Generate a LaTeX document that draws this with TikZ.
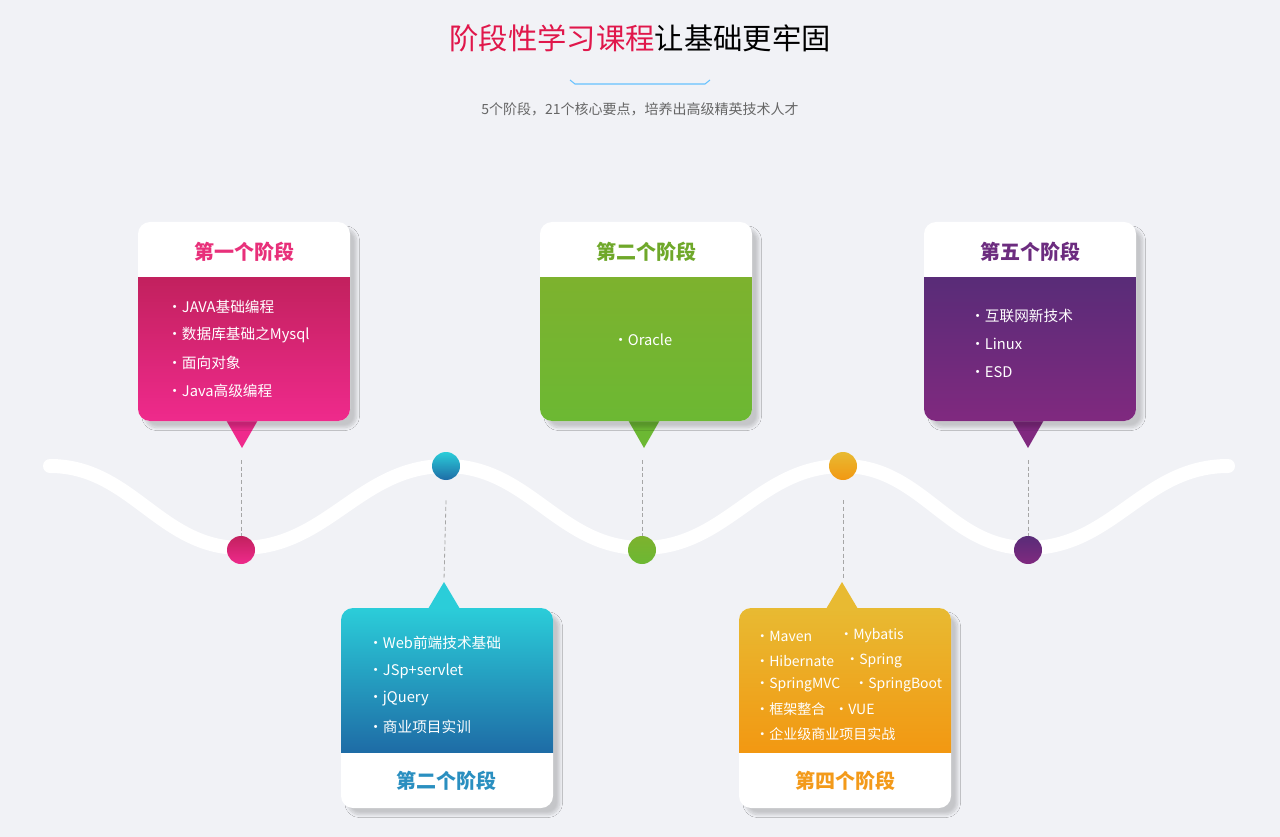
\documentclass[tikz,border=0pt]{standalone}
\usepackage{fontspec}
\setmainfont{Noto Sans CJK SC}
\usetikzlibrary{shadows.blur}
\definecolor{bgc}{HTML}{F1F2F6}
\definecolor{titred}{HTML}{E0174B}
\definecolor{pinkA}{HTML}{C2215E}\definecolor{pinkB}{HTML}{EF2A8C}\definecolor{pinkT}{HTML}{E8307A}
\definecolor{blueA}{HTML}{2BCDD9}\definecolor{blueB}{HTML}{1E6CA6}\definecolor{blueT}{HTML}{2A8FC0}
\definecolor{greenA}{HTML}{7DB22E}\definecolor{greenB}{HTML}{6CB833}\definecolor{greenT}{HTML}{6FA82A}
\definecolor{orangeA}{HTML}{E8BA32}\definecolor{orangeB}{HTML}{F29812}\definecolor{orangeT}{HTML}{F39A1A}
\definecolor{purpleA}{HTML}{592C78}\definecolor{purpleB}{HTML}{80297F}\definecolor{purpleT}{HTML}{6C2C7F}
\tikzset{
  card/.style={fill=white,rounded corners=9pt,blur shadow={shadow xshift=5pt,shadow yshift=-5pt,shadow opacity=18,shadow blur steps=8}},
  head/.style={font=\fontsize{15}{18}\selectfont\bfseries},
  item/.style={anchor=west,text=white,font=\fontsize{11}{13}\selectfont,inner sep=0pt},
  small/.style={item,font=\fontsize{10.5}{12}\selectfont},
  guide/.style={densely dashed,gray!70,line width=0.6pt},
  dot/.style={circle,minimum size=21pt,inner sep=0pt}
}
\begin{document}
\begin{tikzpicture}[x=0.75pt,y=-0.75pt]
  \fill[bgc] (0,0) rectangle (1280,837);
  \useasboundingbox (0,0) rectangle (1280,837);
  % title
  \node (title) at (640,38) {\fontsize{22}{26}\selectfont\textcolor{titred}{阶段性学习课程}让基础更牢固};
  \draw[blue!40!cyan!60,line width=0.8pt] (570,80) -- (575,84) -- (705,84) -- (710,80);
  \node[text=black!60,font=\fontsize{10.5}{12}\selectfont] (sub) at (640,109) {5个阶段，21个核心要点，培养出高级精英技术人才};
  % wave
  \draw[white,line width=10.5pt,line cap=round] (50,466) to[out=0,in=180] (241,548)
    to[out=0,in=180] (446,466) to[out=0,in=180] (642,548) to[out=0,in=180] (843,466)
    to[out=0,in=180] (1028,548) to[out=0,in=180] (1228,466);
  % top cards
  \foreach \x/\ca/\cb in {138/pinkA/pinkB, 540/greenA/greenB, 924/purpleA/purpleB}{
    \fill[\cb] (\x+88,420) -- (\x+120,420) -- (\x+104,448) -- cycle;
    \path[card] (\x,222) rectangle (\x+212,421);
    \begin{scope}
      \clip[rounded corners=9pt] (\x,222) rectangle (\x+212,421);
      \shade[top color=\ca,bottom color=\cb] (\x,278) rectangle (\x+212,421);
    \end{scope}
  }
  % bottom cards
  \foreach \x/\ca/\cb in {341/blueA/blueB, 739/orangeA/orangeB}{
    \fill[\ca] (\x+87,609) -- (\x+119,609) -- (\x+103,582) -- cycle;
    \path[card] (\x,608) rectangle (\x+212,808);
    \begin{scope}
      \clip[rounded corners=9pt] (\x,608) rectangle (\x+212,808);
      \shade[top color=\ca,bottom color=\cb] (\x,608) rectangle (\x+212,752);
    \end{scope}
  }
  % dots and guides
  \node[dot,top color=pinkA,bottom color=pinkB] (d1) at (241,550) {};
  \node[dot,top color=blueA,bottom color=blueB] (d2) at (446,466) {};
  \node[dot,top color=greenA,bottom color=greenB] (d3) at (642,550) {};
  \node[dot,top color=orangeA,bottom color=orangeB] (d4) at (843,466) {};
  \node[dot,top color=purpleA,bottom color=purpleB] (d5) at (1028,550) {};
  \coordinate (g1) at (241,460); \coordinate (g2) at (444,580);
  \coordinate (g3) at (642,460); \coordinate (g4) at (843,580);
  \coordinate (g5) at (1028,460);
  \draw[guide] (g1) -- (d1.north);
  \draw[guide] (d2.south) ++(0,20) coordinate (g2s) (g2s) -- (g2);
  \draw[guide] (g3) -- (d3.north);
  \draw[guide] (d4.south) ++(0,20) coordinate (g4s) (g4s) -- (g4);
  \draw[guide] (g5) -- (d5.north);
  % headings
  \node[head,text=pinkT] (h1) at (244,252) {第一个阶段};
  \node[head,text=blueT] (h2) at (446,781) {第二个阶段};
  \node[head,text=greenT] (h3) at (646,252) {第二个阶段};
  \node[head,text=orangeT] (h4) at (845,781) {第四个阶段};
  \node[head,text=purpleT] (h5) at (1030,252) {第五个阶段};
  % stage texts
  \node[item] (t11) at (167,307) {·JAVA基础编程};
  \node[item] (t12) at (167,335) {·数据库基础之Mysql};
  \node[item] (t13) at (167,363) {·面向对象};
  \node[item] (t14) at (167,391) {·Java高级编程};
  \node[item] (t21) at (368,643) {·Web前端技术基础};
  \node[item] (t22) at (368,671) {·JSp+servlet};
  \node[item] (t23) at (368,699) {·jQuery};
  \node[item] (t24) at (368,727) {·商业项目实训};
  \node[item] (t31) at (613,340) {·Oracle};
  \node[small] (t41) at (755,636) {·Maven};
  \node[small] (t42) at (839,636) {·Mybatis};
  \node[small] (t43) at (755,661) {·Hibernate};
  \node[small] (t44) at (845,661) {·Spring};
  \node[small] (t45) at (755,685) {·SpringMVC};
  \node[small] (t46) at (854,685) {·SpringBoot};
  \node[small] (t47) at (755,709) {·框架整合};
  \node[small] (t48) at (834,709) {·VUE};
  \node[small] (t49) at (755,734) {·企业级商业项目实战};
  \node[item] (t51) at (970,316) {·互联网新技术};
  \node[item] (t52) at (970,344) {·Linux};
  \node[item] (t53) at (970,372) {·ESD};
\end{tikzpicture}
\end{document}
